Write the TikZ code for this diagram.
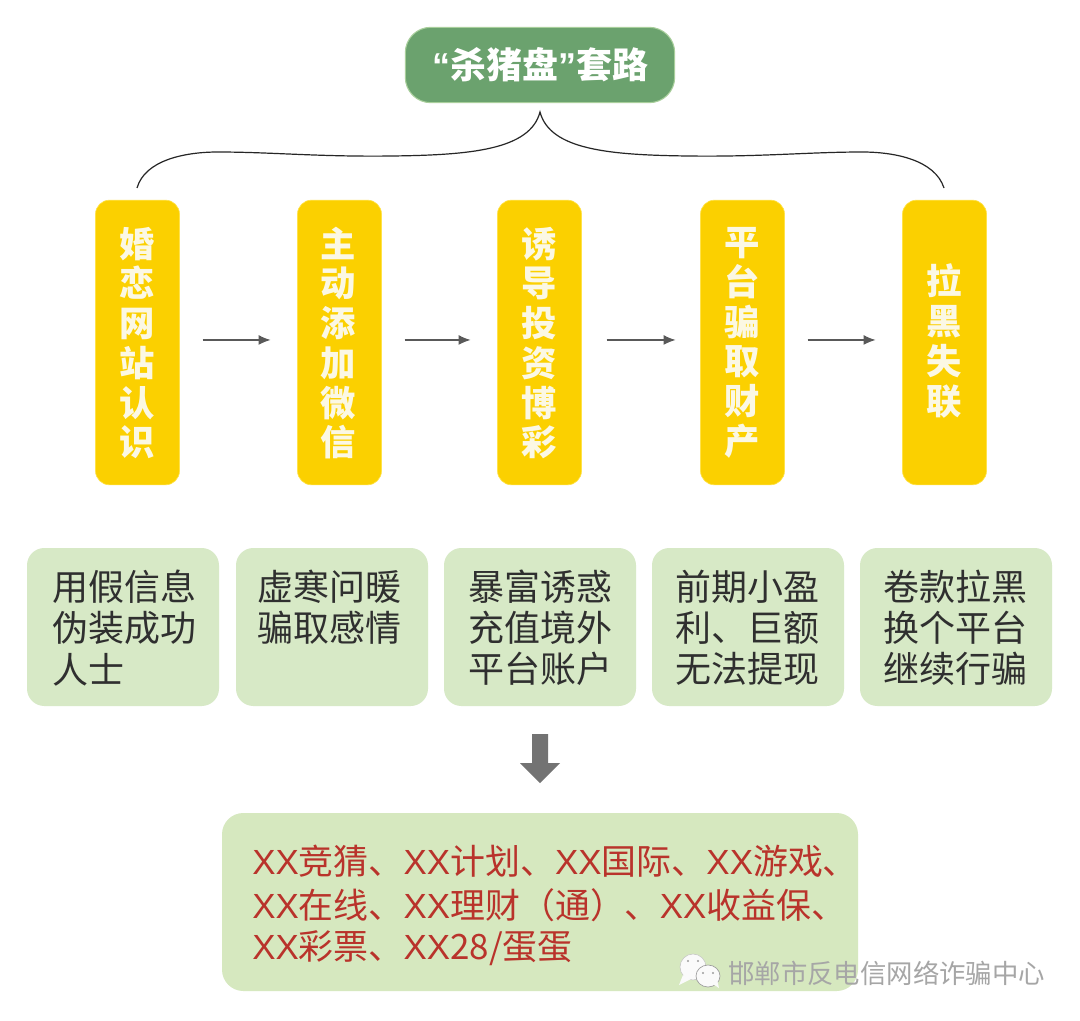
\documentclass[tikz,border=0pt]{standalone}
\usepackage{fontspec}
\setmainfont{Noto Sans CJK SC}
\newfontfamily\cjk{Noto Sans CJK SC}
\newfontfamily\lat{Liberation Sans}
\newcommand{\XX}{{\lat XX}}
\definecolor{titlegreen}{HTML}{6BA26E}
\definecolor{titleedge}{HTML}{A9CF9C}
\definecolor{stepyellow}{HTML}{FBD000}
\definecolor{stepedge}{HTML}{FFE24A}
\definecolor{palegreen}{HTML}{D7E9C6}
\definecolor{bottomgreen}{HTML}{D6E8BF}
\definecolor{redtext}{HTML}{B9332B}
\definecolor{bodytext}{HTML}{2F2F2F}
\definecolor{creamtext}{HTML}{FBF8E4}
\definecolor{arrowgray}{HTML}{737373}
\definecolor{markgray}{HTML}{9C9C9C}
\usetikzlibrary{arrows.meta}
\tikzset{
  x=0.75pt,y=-0.75pt,
  titlebox/.style={draw=titleedge,line width=0.8pt,fill=titlegreen,rounded corners=19pt,minimum width=202pt,minimum height=56.5pt,inner sep=0pt,text=white,font=\fontsize{27pt}{30pt}\bfseries},
  stepbox/.style={draw=stepedge,line width=0.5pt,fill=stepyellow,rounded corners=10.5pt,minimum width=63pt,minimum height=213.5pt,inner sep=0pt},
  steptext/.style={text=creamtext,inner sep=0pt,align=center,font=\fontsize{26.5pt}{29.8pt}\bfseries},
  notebox/.style={fill=palegreen,rounded corners=13pt,minimum width=144pt,minimum height=118.5pt,inner sep=0pt},
  notetext/.style={text=bodytext,inner sep=0pt,align=left,font=\fontsize{27pt}{30.8pt}\selectfont},
  listbox/.style={fill=bottomgreen,rounded corners=16pt,minimum width=477pt,minimum height=133.5pt,inner sep=0pt},
  listtext/.style={text=redtext,inner sep=0pt,anchor=west,font=\fontsize{26.2pt}{30pt}\selectfont},
  flow/.style={draw=black!65,line width=0.8pt,-{Latex[length=9pt,width=7.5pt]},shorten <=17pt,shorten >=20pt},
  brace/.style={draw=black!85,line width=0.9pt},
}
\begin{document}
\begin{tikzpicture}
\useasboundingbox (0,0) rectangle (1080,1020);
\fill[white] (0,0) rectangle (1080,1020);

% title
\node[titlebox] (title) at (540,65) {\raisebox{1.5pt}{{\lat “}杀猪盘{\lat ”}套路}};

% steps
\node[stepbox] (s1) at (137.5,342.5) {};
\node[stepbox] (s2) at (339.5,342.5) {};
\node[stepbox] (s3) at (539.5,342.5) {};
\node[stepbox] (s4) at (742.5,342.5) {};
\node[stepbox] (s5) at (944.5,342.5) {};
\node[steptext] (st1) at (137.5,343) {婚\\恋\\网\\站\\认\\识};
\node[steptext] (st2) at (338.5,343) {主\\动\\添\\加\\微\\信};
\node[steptext] (st3) at (539.5,343) {诱\\导\\投\\资\\博\\彩};
\node[steptext] (st4) at (742.5,343) {平\\台\\骗\\取\\财\\产};
\node[steptext] (st5) at (944.5,341) {拉\\黑\\失\\联};

% brace
\coordinate (bl) at (137,188);
\coordinate (br) at (944,188);
\coordinate (tip) at (540,112);
\draw[brace] (bl) .. controls (145,160) and (185,152) .. (218,152)
  .. controls (270,152) and (320,157) .. (392,156)
  .. controls (470,155) and (530,150) .. (tip)
  .. controls (550,150) and (610,155) .. (688,156)
  .. controls (760,157) and (810,152) .. (862,152)
  .. controls (895,152) and (935,160) .. (br);

% flow arrows
\draw[flow] ([yshift=1.9pt]s1.east) -- ([yshift=1.9pt]s2.west);
\draw[flow] ([yshift=1.9pt]s2.east) -- ([yshift=1.9pt]s3.west);
\draw[flow] ([xshift=1.5pt,yshift=1.9pt]s3.east) -- ([xshift=1.5pt,yshift=1.9pt]s4.west);
\draw[flow] ([yshift=1.9pt]s4.east) -- ([yshift=1.9pt]s5.west);

% notes
\node[notebox] (n1) at (123,627) {};
\node[notebox] (n2) at (332,627) {};
\node[notebox] (n3) at (540,627) {};
\node[notebox] (n4) at (748,627) {};
\node[notebox] (n5) at (956,627) {};
\node[notetext] (nt1) at (124,628) {用假信息\\伪装成功\\人士};
\node[notetext] (nt2) at (329,607) {虚寒问暖\\骗取感情};
\node[notetext] (nt3) at (540,628) {暴富诱惑\\充值境外\\平台账户};
\node[notetext] (nt4) at (747,628) {前期小盈\\利、巨额\\无法提现};
\node[notetext] (nt5) at (955,628) {卷款拉黑\\换个平台\\继续行骗};

% big arrow
\fill[arrowgray] (532,734) -- (548,734) -- (548,763) -- (560,763) -- (540,783) -- (520,763) -- (532,763) -- cycle;

% list
\node[listbox] (list) at (540,902) {};
\node[listtext] (l1) at (252,861) {\XX 竞猜、\XX 计划、\XX 国际、\XX 游戏、};
\node[listtext] (l2) at (252,905) {\XX 在线、\XX 理财（通）、\XX 收益保、};
\node[listtext] (l3) at (252,948) {\XX 彩票、\XX 28/蛋蛋};

% watermark
\fill[white!96!gray,draw=markgray!60,line width=0.4pt] (693,967) ellipse (13 and 13);
\fill[white!96!gray] (683,975) -- (679,985) -- (691,979) -- cycle;
\fill[white!96!gray,draw=markgray,line width=0.5pt] (708,976) ellipse (12 and 11);
\fill[white!96!gray] (713,984) -- (719,988) -- (717,979) -- cycle;
\fill[markgray] (688,961) circle (1.1) (698,961) circle (1.1) (703,973) circle (1.1) (713,973) circle (1.1);
\node[inner sep=0pt,anchor=west,text=markgray!90,font=\fontsize{19.8pt}{22pt}\selectfont] (mark) at (728,973) {邯郸市反电信网络诈骗中心};
\end{tikzpicture}
\end{document}
